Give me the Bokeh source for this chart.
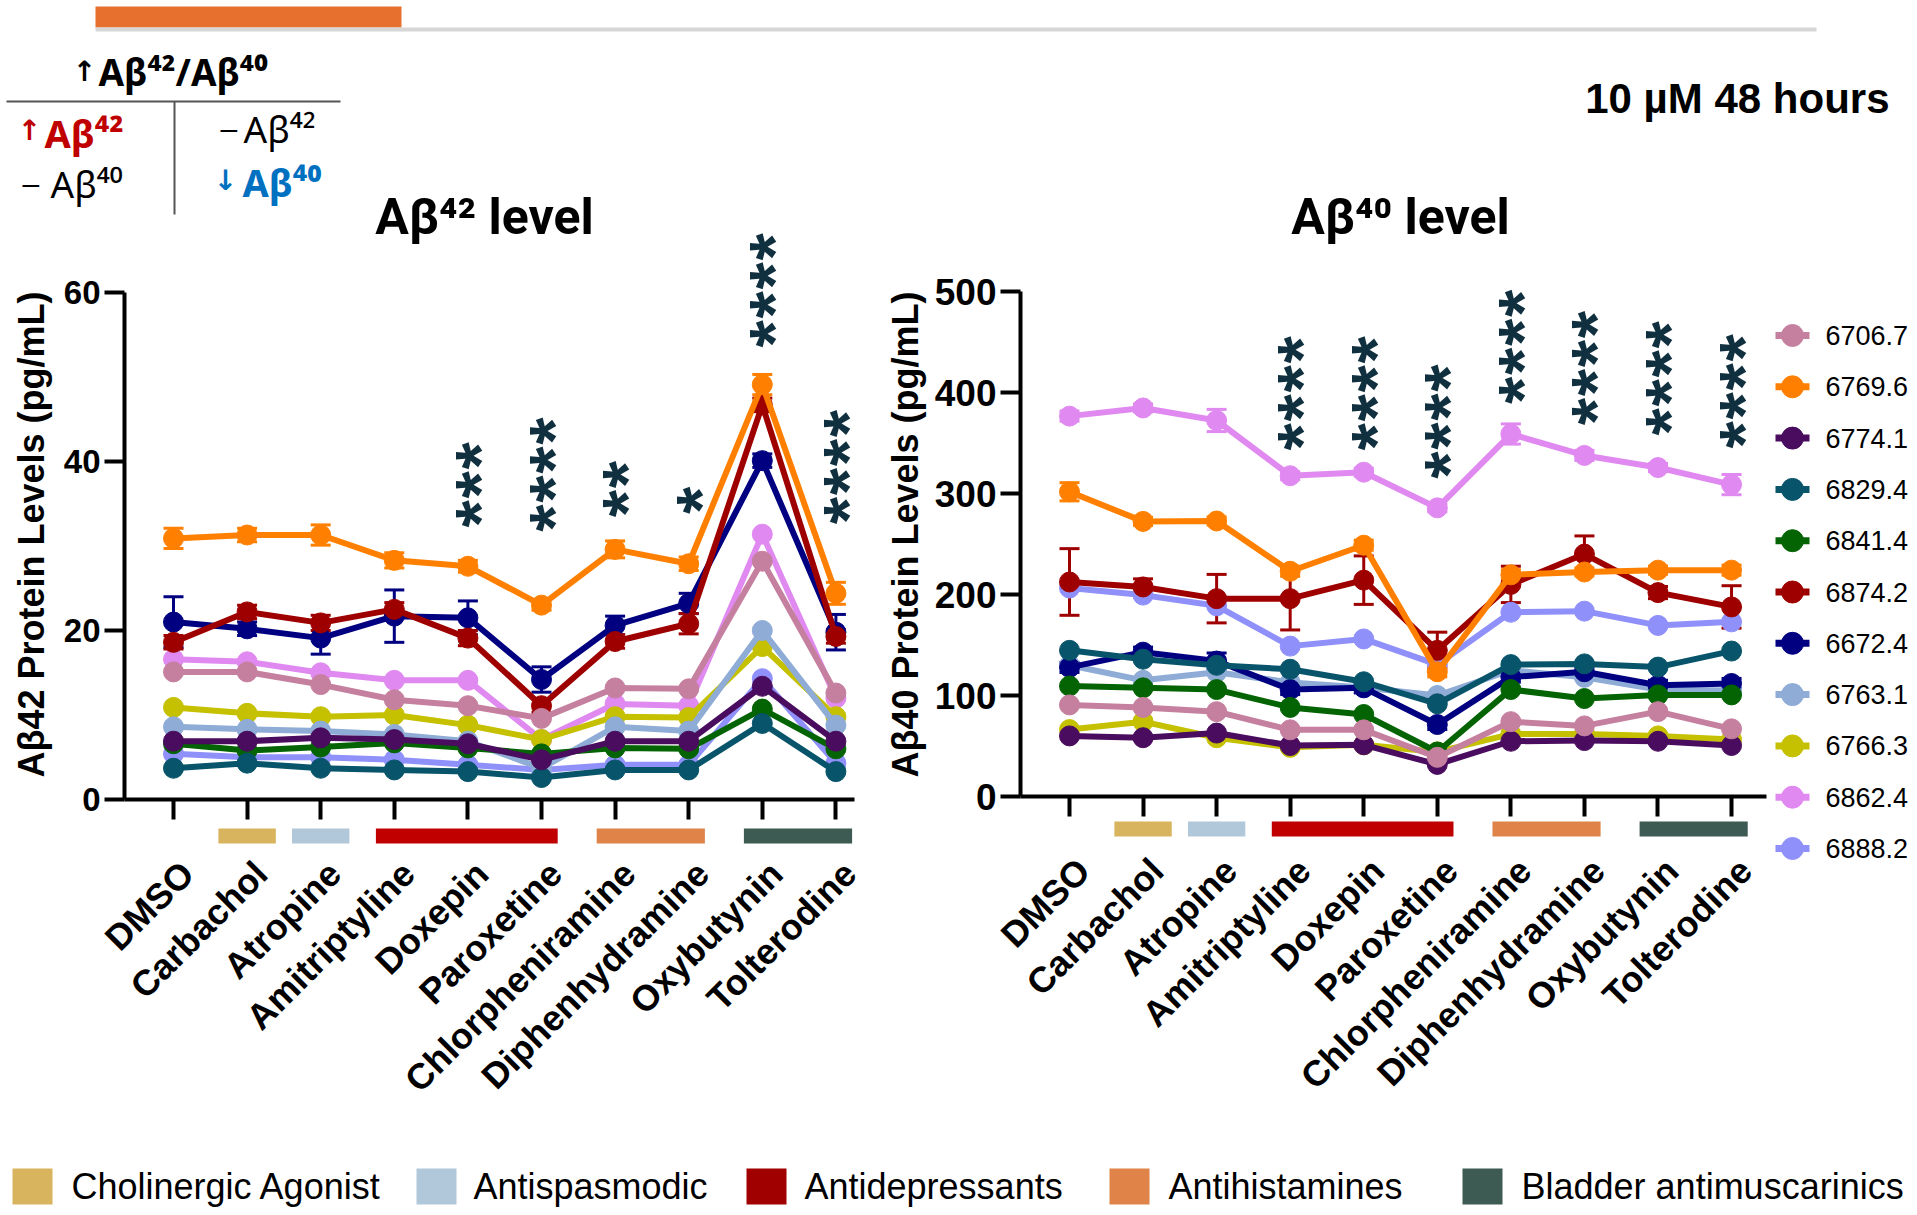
import math
from bokeh.plotting import figure
from bokeh.models import Range1d, LinearAxis, FixedTicker, ColumnDataSource, Whisker, TeeHead
from bokeh.embed import file_html
from bokeh.resources import INLINE
from bokeh.core.properties import value

# ---------------- data ----------------
drugs = ["DMSO", "Carbachol", "Atropine", "Amitriptyline", "Doxepin", "Paroxetine",
         "Chlorpheniramine", "Diphenhydramine", "Oxybutynin", "Tolterodine"]
series_ids = ["6706.7", "6769.6", "6774.1", "6829.4", "6841.4", "6874.2",
              "6672.4", "6763.1", "6766.3", "6862.4", "6888.2"]
series_colors = ["#C6809F", "#FF8000", "#4A0C5E", "#08546A", "#046404", "#9E0000",
                 "#000080", "#8EACD6", "#C5C000", "#E089F0", "#9090FA"]

# Abeta42 (pg/mL)
ab42_6706_7 = [15.1, 15.1, 13.6, 11.8, 11.1, 9.6, 13.2, 13.1, 28.2, 12.6]
ab42_6769_6 = [30.9, 31.3, 31.3, 28.3, 27.6, 23.0, 29.6, 27.9, 49.1, 24.4]
ab42_6774_1 = [6.9, 6.9, 7.3, 7.1, 6.6, 4.7, 6.9, 6.9, 13.4, 6.9]
ab42_6829_4 = [3.7, 4.3, 3.7, 3.5, 3.3, 2.6, 3.5, 3.5, 9.0, 3.3]
ab42_6841_4 = [6.6, 5.8, 6.2, 6.7, 6.1, 5.4, 6.1, 6.0, 10.7, 6.0]
ab42_6874_2 = [18.6, 22.2, 20.9, 22.5, 19.1, 11.1, 18.7, 20.8, 46.7, 19.3]
ab42_6672_4 = [21.0, 20.2, 19.1, 21.7, 21.5, 14.2, 20.6, 23.2, 40.1, 19.8]
ab42_6763_1 = [8.6, 8.3, 8.1, 7.7, 6.9, 3.7, 8.6, 8.1, 20.0, 8.8]
ab42_6766_3 = [10.9, 10.2, 9.8, 10.0, 8.8, 7.1, 9.8, 9.7, 18.1, 9.8]
ab42_6862_4 = [16.6, 16.3, 15.0, 14.1, 14.1, 7.1, 11.3, 11.1, 31.4, 12.0]
ab42_6888_2 = [5.4, 5.0, 5.0, 4.7, 4.1, 3.5, 4.1, 4.1, 14.3, 4.3]

ab42_err_6769_6 = [1.2, 0.8, 1.2, 0.9, 0.7, 0.6, 1.0, 0.8, 1.2, 1.3]
ab42_err_6672_4 = [3.0, 0.8, 1.9, 3.1, 2.0, 1.5, 1.1, 1.2, 0.8, 2.1]
ab42_err_6874_2 = [0.8, 0.8, 0.9, 0.8, 0.9, 0.8, 0.8, 1.2, 0.8, 0.8]

# Abeta40 (pg/mL)
ab40_6706_7 = [90.7, 88.2, 84.0, 66.0, 66.0, 38.8, 74.1, 69.9, 84.0, 67.0]
ab40_6769_6 = [301.7, 272.4, 272.8, 223.0, 248.8, 123.5, 219.5, 222.3, 224.1, 224.1]
ab40_6774_1 = [60.0, 58.2, 62.8, 50.5, 51.2, 31.8, 54.7, 55.4, 54.7, 50.5]
ab40_6829_4 = [144.7, 135.9, 129.9, 126.0, 113.6, 91.8, 130.6, 131.3, 128.1, 144.0]
ab40_6841_4 = [109.4, 107.6, 105.9, 88.2, 81.2, 44.1, 105.9, 97.0, 100.6, 100.6]
ab40_6874_2 = [212.4, 207.5, 195.9, 195.9, 214.2, 144.7, 210.0, 240.0, 201.9, 187.7]
ab40_6672_4 = [127.8, 142.9, 134.1, 105.9, 107.6, 71.3, 118.2, 123.5, 110.1, 111.9]
ab40_6763_1 = [130.0, 115.0, 123.0, 113.0, 108.0, 100.0, 125.0, 118.0, 106.0, 105.0]
ab40_6766_3 = [66.3, 74.1, 58.2, 48.7, 51.2, 44.1, 61.8, 61.8, 60.0, 56.5]
ab40_6862_4 = [376.6, 384.7, 372.3, 317.6, 321.1, 285.8, 358.9, 337.7, 325.7, 308.8]
ab40_6888_2 = [206.4, 199.4, 188.8, 148.9, 156.0, 130.6, 182.4, 183.5, 169.4, 172.9]

ab40_err_6862_4 = [5, 4, 11, 4, 4, 4, 10, 5, 4, 10]
ab40_err_6769_6 = [9, 4, 4, 5, 5, 5, 5, 4, 4, 5]
ab40_err_6874_2 = [33, 8, 24, 31, 24, 18, 18, 18, 6, 21]
ab40_err_6672_4 = [5, 5, 8, 5, 5, 5, 5, 5, 5, 5]

# significance stars (count per drug, lowest star level)
ab42_star_counts = [0, 0, 0, 0, 3, 4, 2, 1, 4, 4]
ab42_star_base = [0, 0, 0, 0, 33.8, 33.3, 35.0, 35.4, 55.1, 34.2]
ab40_star_counts = [0, 0, 0, 4, 4, 4, 4, 4, 4, 4]
ab40_star_base = [0, 0, 0, 356, 356, 328, 402, 381, 371, 358]

# drug classes
groups = ["Cholinergic Agonist", "Antispasmodic", "Antidepressants", "Antihistamines", "Bladder antimuscarinics"]
group_first = [1, 2, 3, 6, 8]
group_last = [1, 2, 5, 7, 9]
group_colors = ["#D9B45F", "#B1C7DA", "#C00000", "#DF8348", "#3E5B53"]
legend_swatch_colors = ["#D9B45F", "#B1C7DA", "#A00000", "#DF8348", "#3E5B53"]

ab42_table = dict(zip(series_ids, [ab42_6706_7, ab42_6769_6, ab42_6774_1, ab42_6829_4, ab42_6841_4,
                                   ab42_6874_2, ab42_6672_4, ab42_6763_1, ab42_6766_3, ab42_6862_4, ab42_6888_2]))
ab40_table = dict(zip(series_ids, [ab40_6706_7, ab40_6769_6, ab40_6774_1, ab40_6829_4, ab40_6841_4,
                                   ab40_6874_2, ab40_6672_4, ab40_6763_1, ab40_6766_3, ab40_6862_4, ab40_6888_2]))
ab42_errs = {"6769.6": ab42_err_6769_6, "6672.4": ab42_err_6672_4, "6874.2": ab42_err_6874_2}
ab40_errs = {"6862.4": ab40_err_6862_4, "6769.6": ab40_err_6769_6, "6874.2": ab40_err_6874_2,
             "6672.4": ab40_err_6672_4}

# ---------------- layout (page pixels; Bokeh page has no body margin) ----------------
W, H = 1915, 1213
FONT_NAME = "Liberation Sans"
FONT = value(FONT_NAME)
SFONT = value("Noto Sans")
AFONT = value("DejaVu Sans")
TFONT = value("Roboto")

p = figure(width=W, height=H, x_range=Range1d(0, W), y_range=Range1d(H, 0),
           output_backend="svg", toolbar_location=None, min_border=0,
           x_axis_type=None, y_axis_type=None)
p.outline_line_color = None
p.background_fill_color = "white"
p.border_fill_color = "white"


def x_range_for(px0, spacing):
    return ((0 - px0) / spacing, (W - px0) / spacing)


def y_range_for(px0, px_top, v_top):
    ppu = (px0 - px_top) / v_top
    return ((px0 - H) / ppu, px0 / ppu), ppu


panels = {
    "L": dict(x0=173.0, sp=73.6, y0px=799.0, ytop_px=292.0, ytop=60, yaxis_px=124.0, xend_px=854.0,
              ticks=[0, 20, 40, 60], table=ab42_table, errs=ab42_errs,
              counts=ab42_star_counts, bases=ab42_star_base, bar_off=(29, 44), tick_font="33px",
              ylabel="A\u03b242 Protein Levels (pg/mL)", ylabel_x=31, title="A\u03b2\u2074\u00b2 level", title_x=484),
    "R": dict(x0=1069.0, sp=73.56, y0px=796.0, ytop_px=291.0, ytop=500, yaxis_px=1020.0, xend_px=1766.0,
              ticks=[0, 100, 200, 300, 400, 500], table=ab40_table, errs=ab40_errs,
              counts=ab40_star_counts, bases=ab40_star_base, bar_off=(25, 40), tick_font="37px",
              ylabel="A\u03b240 Protein Levels (pg/mL)", ylabel_x=905, title="A\u03b2\u2074\u2070 level", title_x=1400),
}

LAB_SHIFT = 0.19
for key, cfg in panels.items():
    xs0, xs1 = x_range_for(cfg["x0"], cfg["sp"])
    (ys0, ys1), ppu = y_range_for(cfg["y0px"], cfg["ytop_px"], cfg["ytop"])
    xr, xrl, yr = "x" + key, "xl" + key, "y" + key
    p.extra_x_ranges[xr] = Range1d(xs0, xs1)
    p.extra_x_ranges[xrl] = Range1d(xs0 - LAB_SHIFT, xs1 - LAB_SHIFT)
    p.extra_y_ranges[yr] = Range1d(ys0, ys1)
    yaxis_loc = (cfg["yaxis_px"] - cfg["x0"]) / cfg["sp"]
    xend = (cfg["xend_px"] - cfg["x0"]) / cfg["sp"]

    # y axis
    ya = LinearAxis(x_range_name=xr, y_range_name=yr, fixed_location=yaxis_loc,
                    bounds=(0, cfg["ytop"]), ticker=FixedTicker(ticks=cfg["ticks"], minor_ticks=[]))
    ya.axis_line_width = 4
    ya.major_tick_line_width = 4
    ya.major_tick_out = 20
    ya.major_tick_in = 0
    ya.minor_tick_line_color = None
    ya.major_label_standoff = 4
    ya.major_label_text_font = FONT_NAME
    ya.major_label_text_font_style = "bold"
    ya.major_label_text_font_size = cfg["tick_font"]
    ya.major_label_text_color = "black"
    p.add_layout(ya, "left")

    # x axis (line + ticks)
    xa = LinearAxis(x_range_name=xr, y_range_name=yr, fixed_location=0,
                    bounds=(yaxis_loc, xend), ticker=FixedTicker(ticks=list(range(len(drugs))), minor_ticks=[]))
    xa.axis_line_width = 4
    xa.major_tick_line_width = 4
    xa.major_tick_out = 20
    xa.major_tick_in = 0
    xa.minor_tick_line_color = None
    xa.major_label_text_color = None
    p.add_layout(xa, "below")

    # x axis labels (slightly shifted, rotated)
    xl = LinearAxis(x_range_name=xrl, y_range_name=yr, fixed_location=0,
                    ticker=FixedTicker(ticks=list(range(len(drugs))), minor_ticks=[]),
                    major_label_overrides={i: d for i, d in enumerate(drugs)})
    xl.axis_line_color = None
    xl.major_tick_line_color = None
    xl.minor_tick_line_color = None
    xl.major_tick_out = 0
    xl.major_tick_in = 0
    xl.major_label_standoff = 68
    xl.major_label_orientation = math.pi / 4
    xl.major_label_text_font = FONT_NAME
    xl.major_label_text_font_style = "bold"
    xl.major_label_text_font_size = "36px"
    xl.major_label_text_color = "black"
    p.add_layout(xl, "below")

    # drug-class bars under the axis
    bt, bb = -cfg["bar_off"][0] / ppu, -cfg["bar_off"][1] / ppu
    lefts = [f - (0.39 if f == l else 0.25) for f, l in zip(group_first, group_last)]
    rights = [l + (0.39 if f == l else 0.22) for f, l in zip(group_first, group_last)]
    p.quad(left=lefts, right=rights, top=[bt] * len(groups), bottom=[bb] * len(groups),
           fill_color=group_colors, line_color=None, x_range_name=xr, y_range_name=yr)

    # series (first legend entry on top)
    for sid, col in reversed(list(zip(series_ids, series_colors))):
        ys = cfg["table"][sid]
        xs = list(range(len(drugs)))
        if sid in cfg["errs"]:
            e = cfg["errs"][sid]
            esrc = ColumnDataSource(dict(x=xs, lo=[a - b for a, b in zip(ys, e)], hi=[a + b for a, b in zip(ys, e)]))
            p.add_layout(Whisker(source=esrc, base="x", lower="lo", upper="hi", dimension="height",
                                 x_range_name=xr, y_range_name=yr, line_color=col, line_width=3,
                                 upper_head=TeeHead(size=20, line_color=col, line_width=3),
                                 lower_head=TeeHead(size=20, line_color=col, line_width=3)))
        src = ColumnDataSource(dict(x=xs, y=ys))
        p.line("x", "y", source=src, x_range_name=xr, y_range_name=yr, line_color=col,
               line_width=6, line_join="round")
        p.scatter("x", "y", source=src, x_range_name=xr, y_range_name=yr, marker="circle",
                  size=20, fill_color=col, line_color=col)

    # significance stars
    step = 29.0 / ppu
    sx, sy = [], []
    for i, (n, b) in enumerate(zip(cfg["counts"], cfg["bases"])):
        for k in range(n):
            sx.append(i)
            sy.append(b + k * step)
    p.text(x=sx, y=sy, text=["*"] * len(sx), angle=math.pi / 2, x_range_name=xr, y_range_name=yr,
           text_font=FONT, text_font_style="bold", text_font_size="70px", text_color="#10303F",
           text_align="center", text_baseline="middle", x_offset=13)

    # y-axis title and panel title
    p.text(x=[cfg["ylabel_x"]], y=[534], text=[cfg["ylabel"]], angle=math.pi / 2,
           text_font=FONT, text_font_style="bold", text_font_size="36px", text_color="black",
           text_align="center", text_baseline="middle")
    p.text(x=[cfg["title_x"]], y=[216], text=[cfg["title"]], text_font=TFONT, text_font_style="bold",
           text_font_size="50px", text_color="black", text_align="center", text_baseline="middle")

# ---------------- header ----------------
p.quad(left=[95], right=[401], top=[6], bottom=[27], fill_color="#E8702F", line_color=None)
p.segment(x0=[95], y0=[29], x1=[1816], y1=[29], line_color="#D6D6D6", line_width=4)
p.segment(x0=[6], y0=[101], x1=[340], y1=[101], line_color="#555555", line_width=2)
p.segment(x0=[174], y0=[101], x1=[174], y1=[214], line_color="#555555", line_width=2)

# arrows / dashes
p.text(x=[84, 29, 225], y=[71, 130, 180], text=["\u2191", "\u2191", "\u2193"], text_font=AFONT,
       text_font_style="bold", text_font_size="28px", text_color=["black", "#C00000", "#0070C0"],
       text_align="center", text_baseline="middle")
p.text(x=[22, 220], y=[183, 128], text=["\u2013", "\u2013"], text_font=FONT,
       text_font_size="30px", text_color="black", text_align="left", text_baseline="middle")
# A-beta labels
p.text(x=[98], y=[71], text=["A\u03b2\u2074\u00b2/A\u03b2\u2074\u2070"], text_font=SFONT,
       text_font_style="bold", text_font_size="37px", text_color="black",
       text_align="left", text_baseline="middle")
p.text(x=[44], y=[132], text=["A\u03b2\u2074\u00b2"], text_font=SFONT, text_font_style="bold",
       text_font_size="38px", text_color="#C00000", text_align="left", text_baseline="middle")
p.text(x=[50], y=[183], text=["A\u03b2\u2074\u2070"], text_font=SFONT,
       text_font_size="37px", text_color="black", text_align="left", text_baseline="middle")
p.text(x=[243], y=[128], text=["A\u03b2\u2074\u00b2"], text_font=SFONT,
       text_font_size="37px", text_color="black", text_align="left", text_baseline="middle")
p.text(x=[242], y=[181], text=["A\u03b2\u2074\u2070"], text_font=SFONT, text_font_style="bold",
       text_font_size="38px", text_color="#0070C0", text_align="left", text_baseline="middle")
p.text(x=[1889], y=[98], text=["10 \u00b5M 48 hours"], text_font=FONT, text_font_style="bold",
       text_font_size="42px", text_color="black", text_align="right", text_baseline="middle")

# ---------------- series legend (right) ----------------
leg_y = [335 + 51.3 * k for k in range(len(series_ids))]
p.segment(x0=[1775] * len(leg_y), y0=leg_y, x1=[1809] * len(leg_y), y1=leg_y,
          line_color=series_colors, line_width=7)
p.scatter(x=[1792] * len(leg_y), y=leg_y, marker="circle", size=22,
          fill_color=series_colors, line_color=series_colors)
p.text(x=[1825] * len(leg_y), y=leg_y, text=series_ids, text_font=FONT, text_font_size="27px",
       text_color="black", text_align="left", text_baseline="middle")

# ---------------- drug-class legend (bottom) ----------------
sw_left = [12, 416, 746, 1109, 1462]
p.quad(left=sw_left, right=[v + 40 for v in sw_left], top=[1168] * 5, bottom=[1204] * 5,
       fill_color=legend_swatch_colors, line_color=None)
p.text(x=[71, 473, 804, 1168, 1521], y=[1186] * 5, text=groups, text_font=FONT, text_font_size="36px",
       text_color="black", text_align="left", text_baseline="middle")

open("out.html", "w").write(file_html(p, INLINE))
